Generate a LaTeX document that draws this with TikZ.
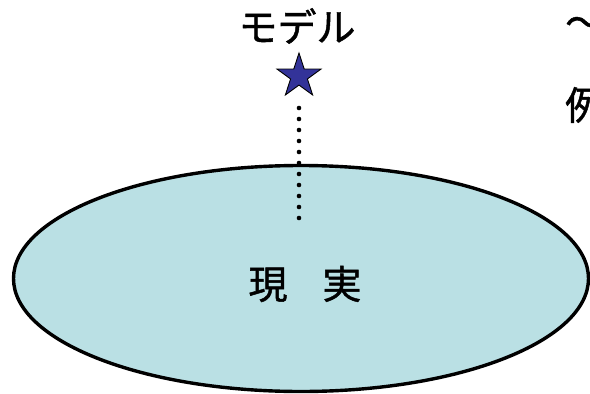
\documentclass[tikz,border=0pt]{standalone}
\usepackage{fontspec}
\newfontfamily\jpfont[FakeBold=1.2]{Noto Sans CJK JP}
\usetikzlibrary{shapes.geometric,positioning}
\definecolor{realcyan}{RGB}{186,224,228}
\definecolor{starblue}{RGB}{51,51,153}

\begin{document}
\begin{tikzpicture}[x=1pt,y=-1pt,
    jptext/.style={font=\jpfont\fontsize{39}{46}\selectfont, inner sep=0pt},
    dotline/.style={line width=4.6pt, line cap=round, dash pattern=on 0pt off 11pt}]
    % frame of the slide cut-out
    \useasboundingbox (0,0) rectangle (590,394);
    \clip (0,0) rectangle (590,394);
    % reality ellipse
    \node[ellipse, draw, line width=3.4pt, fill=realcyan, minimum width=575pt, minimum height=226pt] (reality) at (301,278.5) {};
    \node[jptext] (realitytext) at (305,284) {現\hspace{35pt}実};
    % model star
    \node[star, star points=5, star point ratio=2.618, draw, line width=0.9pt, fill=starblue, minimum size=46.4pt, inner sep=0pt] (model) at (299,76.2) {};
    \node[jptext] (modeltext) at (297,26) {モデル};
    % dotted link from the model down into reality
    \coordinate (dottop) at (299,108);
    \coordinate (dotend) at (299,229);
    \draw[dotline] (dottop) -- (dotend);
    % cut-off text on the right edge
    \node[jptext, anchor=west] (tilde) at (565,27) {〜};
    \node[jptext, anchor=west] (example) at (565,105) {例};
\end{tikzpicture}
\end{document}
